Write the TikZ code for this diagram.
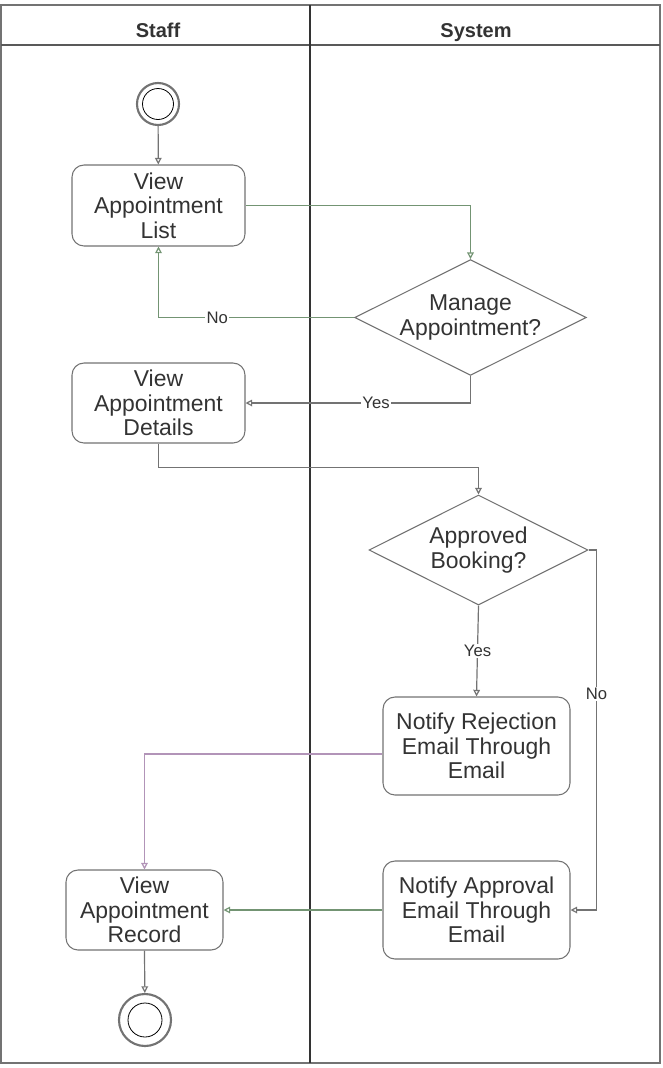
\documentclass[tikz,border=0pt]{standalone}
\usepackage{fontspec}
\setmainfont{Liberation Sans}
\usetikzlibrary{shapes.geometric,arrows.meta}
\definecolor{lane}{rgb}{0.35,0.35,0.35}
\definecolor{edge}{rgb}{0.45,0.45,0.45}
\definecolor{flowg}{rgb}{0.45,0.58,0.45}
\definecolor{flowp}{rgb}{0.7,0.58,0.72}
\definecolor{txt}{rgb}{0.2,0.2,0.2}
\begin{document}
\begin{tikzpicture}[
    x=0.75pt,y=-0.75pt,
    lanehead/.style={font=\fontsize{15}{17}\selectfont\bfseries,text=txt,anchor=base},
    act/.style={draw=edge,thick,rounded corners=9pt,fill=white,align=center,
        text=txt,font=\fontsize{17.2}{18.4}\selectfont,inner sep=0pt},
    choice/.style={draw=edge,thick,diamond,fill=white,align=center,text=txt,
        font=\fontsize{17.2}{18.4}\selectfont,inner sep=0pt,aspect=2},
    flow/.style={draw=edge,thick,-{Triangle[open,length=5pt,width=5pt,fill=white]},line width=0.9pt},
    lbl/.style={font=\fontsize{12.5}{14}\selectfont,text=txt,fill=white,inner sep=1pt}
]
\useasboundingbox (0,0) rectangle (662,1068);

% swimlanes
\draw[edge,line width=1.2pt] (1,5) rectangle (660,1063);
\draw[lane,line width=1.8pt] (1,45) -- (660,45);
\draw[black!80,line width=1.6pt] (310,5) -- (310,1063);
\node[lanehead] (staff) at (158,37) {Staff};
\node[lanehead] (system) at (476,37) {System};

% start and end
\node[circle,draw=edge,line width=1.6pt,minimum size=31.5pt,inner sep=0pt] (start) at (158,104) {};
\draw[black,line width=0.6pt,fill=white] (start.center) circle (15.5);
\node[circle,draw=edge,line width=1.6pt,minimum size=39pt,inner sep=0pt] (end) at (145,1020) {};
\draw[black,line width=0.6pt,fill=white] (end.center) circle (17);

% activities
\node[act,minimum width=129.75pt,minimum height=60.75pt] (list) at (158.5,205.5) {View\\Appointment\\List};
\node[act,minimum width=129.75pt,minimum height=60pt] (details) at (158.5,403) {View\\Appointment\\Details};
\node[act,minimum width=117.75pt,minimum height=60pt] (record) at (144.5,910) {View\\Appointment\\Record};
\node[act,minimum width=140.25pt,minimum height=73.5pt] (reject) at (476.5,746) {Notify Rejection\\Email Through\\Email};
\node[act,minimum width=140.25pt,minimum height=73.5pt] (approve) at (476.5,910) {Notify Approval\\Email Through\\Email};

% decisions
\node[choice,minimum width=173.25pt,minimum height=86.25pt] (manage) at (470.5,317.5) {Manage\\Appointment?};
\node[choice,minimum width=164.25pt,minimum height=82.5pt] (approved) at (478.5,550) {Approved\\Booking?};

% flows
\draw[flow] (start) -- (list);
\draw[flow,draw=flowg] (list.east) -| (manage.north);
\draw[flow,draw=flowg] (manage.west) -| node[lbl,pos=0.35] {No} (list.south);
\draw[flow] (manage.south) |- node[lbl,pos=0.71] {Yes} (details.east);
\draw[flow] (details.south) -- ++(0,24) -| (approved.north);
\draw[flow] (approved.south) -- node[lbl] {Yes} (reject.north);
\draw[flow] (approved.east) -- ++(8,0) |- node[lbl,pos=0.2] {No} (approve.east);
\draw[flow,draw=flowp] ([yshift=-6pt]reject.west) -| (record.north);
\draw[flow,draw=flowg] (approve.west) -- (record.east);
\draw[flow] (record.south) -- (end);

\end{tikzpicture}
\end{document}
